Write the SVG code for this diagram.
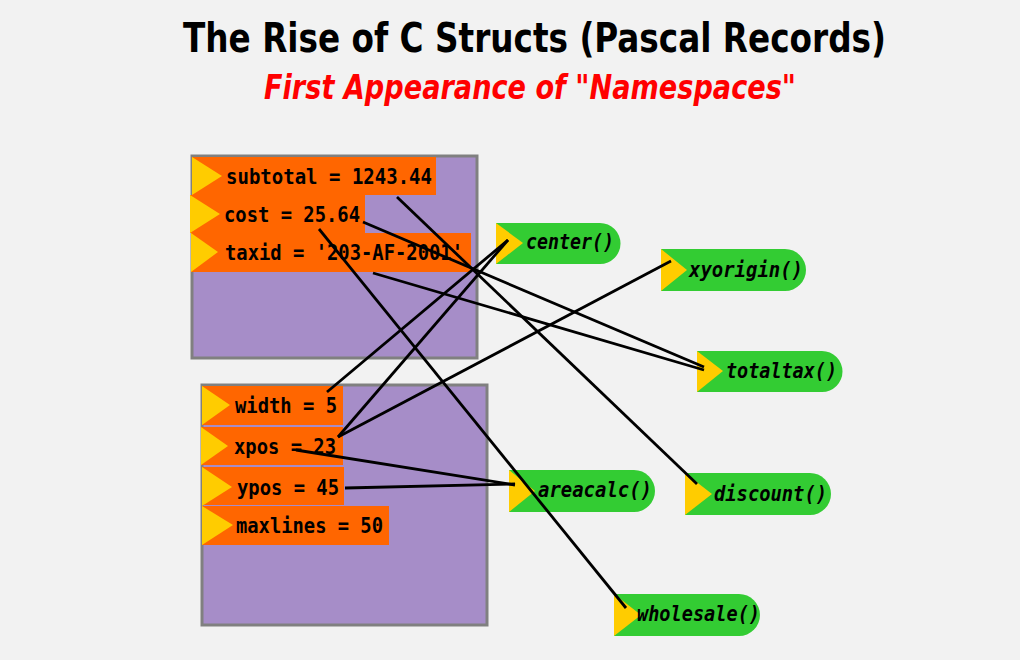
<svg xmlns="http://www.w3.org/2000/svg" width="1020" height="660" viewBox="0 0 1020 660">
<style>
.title{font-family:"DejaVu Sans Condensed","DejaVu Sans","Liberation Sans",sans-serif;font-weight:bold;font-size:40px;fill:#000}
.sub{font-family:"DejaVu Sans Condensed","DejaVu Sans","Liberation Sans",sans-serif;font-weight:bold;font-style:italic;font-size:33px;fill:#FF0000}
.struct{fill:#A68DC8;stroke:#808080;stroke-width:3}
.field{fill:#FF6600}
.tri{fill:#FFCC00}
.fn{fill:#33CC33}
.ft{font-family:"DejaVu Sans Mono","Liberation Mono",monospace;font-weight:bold;font-size:21px;fill:#000}
.fnt{font-family:"DejaVu Sans Mono","Liberation Mono",monospace;font-weight:bold;font-style:italic;font-size:21px;fill:#000}
.conn line{stroke:#000;stroke-width:2.8;stroke-linecap:butt}
</style>
<rect x="0" y="0" width="1020" height="660" fill="#F2F2F2"/>
<text class="title" x="183" y="52" textLength="703" lengthAdjust="spacingAndGlyphs">The Rise of C Structs (Pascal Records)</text>
<text class="sub" x="264" y="99" textLength="532" lengthAdjust="spacingAndGlyphs">First Appearance of "Namespaces"</text>

<g id="struct1">
<rect class="struct" x="192" y="156" width="285" height="202"/>
<g id="f-subtotal"><rect class="field" x="192" y="157" width="244" height="38"/><polygon class="tri" points="192,157 222,176 192,195"/><text class="ft" x="226" y="184" textLength="206" lengthAdjust="spacingAndGlyphs">subtotal = 1243.44</text></g>
<g id="f-cost"><rect class="field" x="190" y="195" width="175" height="38"/><polygon class="tri" points="190,195 220,214 190,233"/><text class="ft" x="224" y="222" textLength="136" lengthAdjust="spacingAndGlyphs">cost = 25.64</text></g>
<g id="f-taxid"><rect class="field" x="191" y="233" width="280" height="39"/><polygon class="tri" points="191,233 218,252 191,272"/><text class="ft" x="225" y="260" textLength="238" lengthAdjust="spacingAndGlyphs">taxid = '203-AF-2001'</text></g>
</g>

<g id="struct2">
<rect class="struct" x="202" y="385" width="285" height="240"/>
<g id="f-width"><rect class="field" x="202" y="386" width="141" height="39"/><polygon class="tri" points="202,386 230,405 202,425"/><text class="ft" x="235" y="413" textLength="102" lengthAdjust="spacingAndGlyphs">width = 5</text></g>
<g id="f-xpos"><rect class="field" x="201" y="427" width="142" height="38"/><polygon class="tri" points="201,427 228,446 201,465"/><text class="ft" x="234" y="454" textLength="102" lengthAdjust="spacingAndGlyphs">xpos = 23</text></g>
<g id="f-ypos"><rect class="field" x="202" y="467" width="142" height="38"/><polygon class="tri" points="202,467 232,487 202,506"/><text class="ft" x="237" y="495" textLength="102" lengthAdjust="spacingAndGlyphs">ypos = 45</text></g>
<g id="f-maxlines"><rect class="field" x="202" y="506" width="187" height="39"/><polygon class="tri" points="202,506 233,525 202,545"/><text class="ft" x="236" y="533" textLength="147" lengthAdjust="spacingAndGlyphs">maxlines = 50</text></g>
</g>

<g id="fn-center"><path class="fn" d="M496,223 H600 A20.5,20.5 0 0 1 600,264 H496 Z"/><polygon class="tri" points="496,223 523,243 496,264"/><text class="fnt" x="526" y="249" textLength="88" lengthAdjust="spacingAndGlyphs">center()</text></g>
<g id="fn-xyorigin"><path class="fn" d="M661,249 H785 A21,21 0 0 1 785,291 H661 Z"/><polygon class="tri" points="661,249 687,270 661,291"/><text class="fnt" x="689" y="277" textLength="114" lengthAdjust="spacingAndGlyphs">xyorigin()</text></g>
<g id="fn-totaltax"><path class="fn" d="M697,351 H822 A20.5,20.5 0 0 1 822,392 H697 Z"/><polygon class="tri" points="697,351 723,371 697,392"/><text class="fnt" x="726" y="378" textLength="111" lengthAdjust="spacingAndGlyphs">totaltax()</text></g>
<g id="fn-areacalc"><path class="fn" d="M509,470 H634 A21,21 0 0 1 634,512 H509 Z"/><polygon class="tri" points="509,470 535,491 509,512"/><text class="fnt" x="538" y="497" textLength="114" lengthAdjust="spacingAndGlyphs">areacalc()</text></g>
<g id="fn-discount"><path class="fn" d="M685,473 H810 A21,21 0 0 1 810,515 H685 Z"/><polygon class="tri" points="685,473 712,494 685,515"/><text class="fnt" x="714" y="501" textLength="113" lengthAdjust="spacingAndGlyphs">discount()</text></g>
<g id="fn-wholesale"><path class="fn" d="M614,594 H739 A21,21 0 0 1 739,636 H614 Z"/><polygon class="tri" points="614,594 641,615 614,636"/><text class="fnt" x="637" y="621" textLength="123" lengthAdjust="spacingAndGlyphs">wholesale()</text></g>

<g id="connectors" class="conn">
<line x1="397" y1="197" x2="697" y2="484"/>
<line x1="363" y1="222" x2="704" y2="367"/>
<line x1="373" y1="273" x2="704" y2="370"/>
<line x1="319" y1="229" x2="626" y2="608"/>
<line x1="327" y1="392" x2="508" y2="240"/>
<line x1="338" y1="437" x2="508" y2="240"/>
<line x1="338" y1="437" x2="671" y2="261"/>
<line x1="296" y1="450" x2="515" y2="485"/>
<line x1="345" y1="488" x2="515" y2="484"/>
</g>
</svg>
